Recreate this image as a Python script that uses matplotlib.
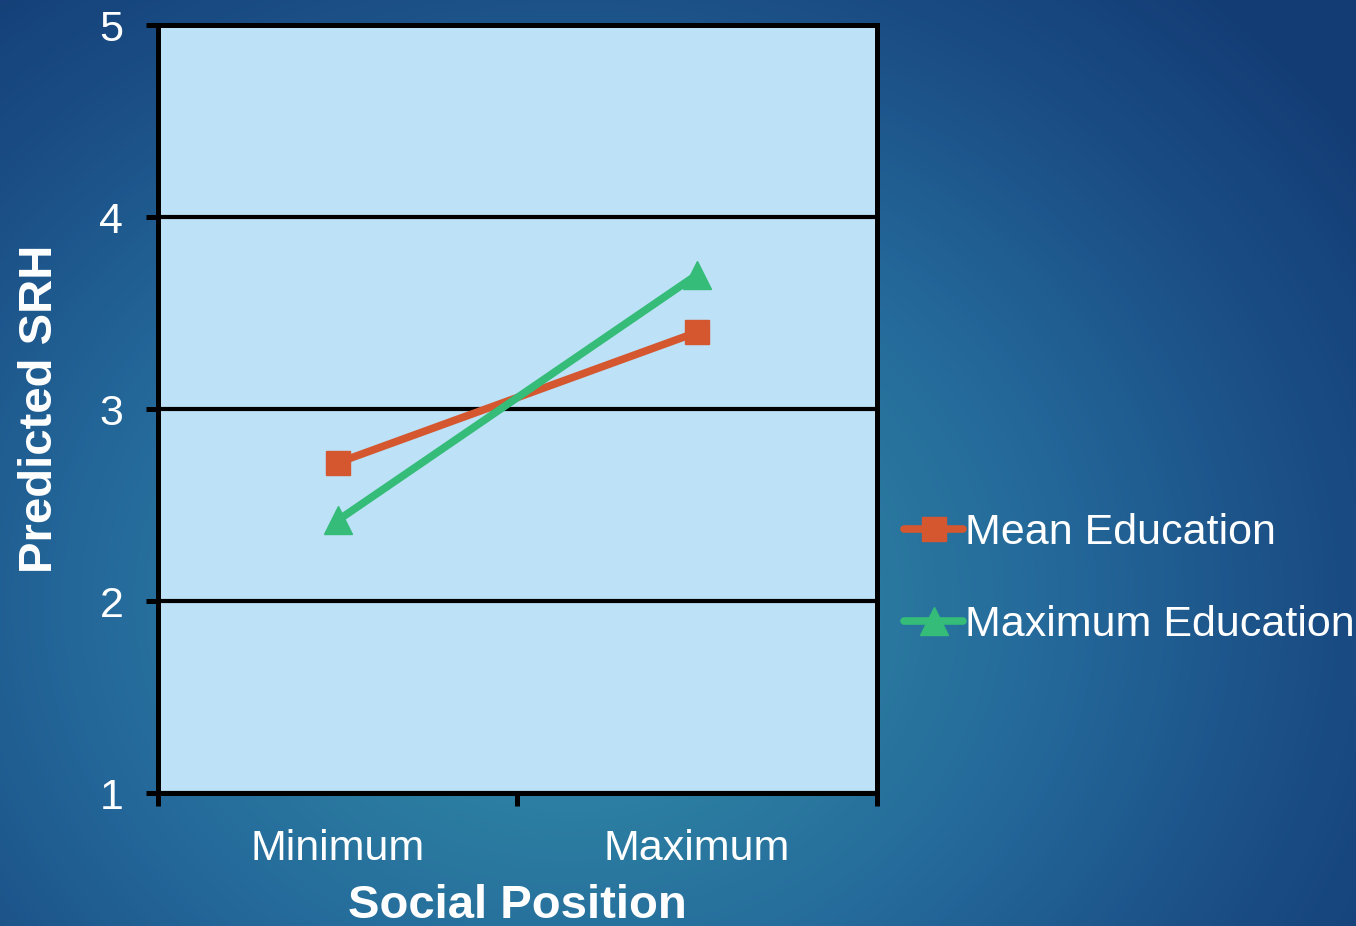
import numpy as np
import matplotlib
matplotlib.use("Agg")
import matplotlib.pyplot as plt
from matplotlib.colors import LinearSegmentedColormap

plt.rcParams['font.family'] = ['Liberation Sans', 'DejaVu Sans']

# predicted self-rated health by social position
categories = ["Minimum", "Maximum"]
mean_edu = [2.72, 3.40]
max_edu = [2.42, 3.70]
series_labels = ["Mean Education", "Maximum Education"]
y_ticks = [1, 2, 3, 4, 5]

fig = plt.figure(figsize=(13.56, 9.26), dpi=100)

# slide-style radial gradient behind everything
bg = fig.add_axes([0, 0, 1, 1], zorder=-10)
h, w = 926, 1356
yy, xx = np.mgrid[0:h, 0:w]
cx, cy = 0.42 * w, 0.65 * h
r = np.sqrt(((xx - cx) / (0.72 * w)) ** 2 + ((yy - cy) / (0.9 * h)) ** 2)
r = np.clip(r, 0, 1)
cmap = LinearSegmentedColormap.from_list(
    "slide", ["#3189a6", "#2c7ea2", "#24689a", "#1b4f86", "#133b74"])
bg.imshow(r, cmap=cmap, aspect="auto", extent=[0, 1, 0, 1], origin="upper")
bg.axis("off")

ax = fig.add_axes([0.1165, 0.1436, 0.5302, 0.8294])
ax.set_facecolor("#bde1f7")

x = np.arange(len(categories))
ax.plot(x, mean_edu, color="#d4572f", lw=5.5, marker="s", ms=17,
        label=series_labels[0], solid_capstyle="round", zorder=3)
ax.plot(x, max_edu, color="#34bc78", lw=5.5, marker="^", ms=20,
        label=series_labels[1], solid_capstyle="round", zorder=3)

ax.set_xlim(-0.5, 1.5)
ax.set_ylim(1, 5)
ax.set_yticks(y_ticks)
ax.set_yticklabels([str(t) for t in y_ticks])
ax.yaxis.grid(True, color="black", lw=3)
ax.set_axisbelow(True)

# category boundaries carry the tick marks, names sit between them
ax.set_xticks([-0.5, 0.5, 1.5])
ax.set_xticklabels([])
ax.set_xticks(x, minor=True)
ax.set_xticklabels(categories, minor=True)
ax.tick_params(axis="x", which="minor", length=0, pad=26,
               labelsize=31, labelcolor="white")
ax.tick_params(axis="x", which="major", length=9, width=3.6, color="black")
ax.tick_params(axis="y", length=9, width=3.6, color="black", pad=16,
               labelsize=31, labelcolor="white")

for s in ax.spines.values():
    s.set_linewidth(3.6)
    s.set_color("black")

ax.set_xlabel("Social Position", fontsize=34, fontweight="bold",
              color="white", labelpad=11)
ax.set_ylabel("Predicted SRH", fontsize=34, fontweight="bold",
              color="white", labelpad=27)

leg = ax.legend(loc="center left", bbox_to_anchor=(0.667, 0.375),
                bbox_transform=fig.transFigure, frameon=False,
                fontsize=31, handlelength=1.35, handletextpad=0.05,
                borderpad=0, borderaxespad=0, labelspacing=1.2,
                labelcolor="white")

fig.savefig("out.png", dpi=100)
